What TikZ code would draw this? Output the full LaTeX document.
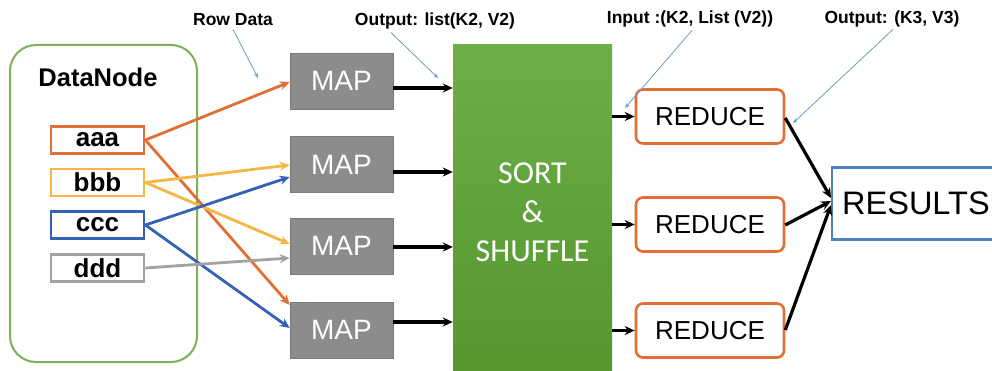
\documentclass[tikz,border=0pt]{standalone}
\usepackage{fontspec}
\setmainfont{Liberation Sans}
\newfontfamily\calib{Carlito}
\usetikzlibrary{arrows.meta}

\definecolor{cOrange}{HTML}{E06F35}
\definecolor{cYellow}{HTML}{F2B843}
\definecolor{cBlue}{HTML}{3462B5}
\definecolor{cGray}{HTML}{A2A2A2}
\definecolor{cMap}{HTML}{8C8C8C}
\definecolor{cMapEdge}{HTML}{7A7A7A}
\definecolor{cGreenTop}{HTML}{6CAE48}
\definecolor{cGreenBot}{HTML}{55972D}
\definecolor{cNodeEdge}{HTML}{7DB155}
\definecolor{cCallout}{HTML}{6A9BD0}
\definecolor{cResult}{HTML}{4F7FC6}

\tikzset{
  px/.style={x=1pt,y=-1pt},
  databox/.style={draw=#1, line width=2.8pt, fill=white, minimum width=93pt,
    minimum height=27pt, inner sep=0pt, font=\fontsize{26}{26}\selectfont\bfseries},
  mapbox/.style={draw=cMapEdge, line width=0.6pt, fill=cMap, minimum width=103pt,
    minimum height=56pt, inner sep=0pt, text=white, font=\fontsize{28}{28}\selectfont},
  reducebox/.style={draw=cOrange, line width=2.6pt, fill=white, rounded corners=7pt,
    minimum width=148pt, minimum height=54pt, inner sep=0pt,
    font=\fontsize{26}{26}\selectfont},
  feed/.style={draw=#1, line width=2.8pt, -{Stealth[length=10pt,width=9pt]}},
  flow/.style={draw=black, line width=3.2pt, -{Stealth[length=10pt,width=9pt]}},
  callout/.style={draw=cCallout, line width=0.8pt, -{Stealth[length=5pt,width=4pt]}},
  note/.style={font=\fontsize{17.5}{17.5}\selectfont\bfseries, inner sep=0pt},
}

\begin{document}
\begin{tikzpicture}[px]
\useasboundingbox (0,0) rectangle (992,371);
\clip (0,0) rectangle (992,371);
\fill[white] (0,0) rectangle (992,371);

% DataNode container
\draw[cNodeEdge, line width=2pt, rounded corners=26pt] (10,45) rectangle (197,362);
\node[font=\fontsize{25.5}{25.5}\selectfont\bfseries] (dn) at (98,77) {DataNode};

% data blocks
\node[databox=cOrange] (aaa) at (97.5,140) {aaa};
\node[databox=cYellow] (bbb) at (97.5,182.5) {bbb};
\node[databox=cBlue]   (ccc) at (97.5,225) {ccc};
\node[databox=cGray]   (ddd) at (97.5,268) {ddd};

% map tasks
\node[mapbox] (m1) at (341.5,81) {MAP};
\node[mapbox] (m2) at (341.5,164.5) {MAP};
\node[mapbox] (m3) at (341.5,246) {MAP};
\node[mapbox] (m4) at (341.5,330) {MAP};

% sort & shuffle stage
\shade[top color=cGreenTop, bottom color=cGreenBot] (453,45) rectangle (612,380);
\node[inner sep=0pt, minimum width=159pt, minimum height=335pt] (ss) at (532.5,212.5) {};
\node[text=white, font=\calib\fontsize{32}{40}\selectfont, align=center] (sstext) at (532.5,212)
  {SORT\\[-1pt]\&\\[-1pt]SHUFFLE};

% reduce tasks
\node[reducebox] (r1) at (710,116.5) {REDUCE};
\node[reducebox] (r2) at (710,224.5) {REDUCE};
\node[reducebox] (r3) at (710,330.5) {REDUCE};

% results
\node[draw=cResult, line width=2.4pt, fill=white, minimum width=175pt, minimum height=72pt,
  inner sep=0pt, anchor=west] (res) at (831,203.5) {};
\node[anchor=west, font=\fontsize{32.5}{32.5}\selectfont, inner sep=0pt] (restext) at (842,203.5) {RESULTS};

% data blocks to map tasks
\draw[feed=cOrange] (aaa.east) -- (m1.west |- 0,82);
\draw[feed=cOrange] (aaa.east) -- (m4.west |- 0,305);
\draw[feed=cYellow] (bbb.east) -- (m2.west |- 0,165);
\draw[feed=cYellow] (bbb.east) -- (m3.west |- 0,244);
\draw[feed=cBlue]   (ccc.east) -- (m2.west |- 0,177);
\draw[feed=cBlue]   (ccc.east) -- (m4.west |- 0,328);
\draw[feed=cGray]   (ddd.east) -- (m3.west |- 0,258);

% map tasks to sort & shuffle
\draw[flow] (m1.east |- 0,88) -- (ss.west |- 0,88);
\draw[flow] (m2.east |- 0,172) -- (ss.west |- 0,172);
\draw[flow] (m3.east |- 0,247) -- (ss.west |- 0,247);
\draw[flow] (m4.east |- 0,322) -- (ss.west |- 0,322);

% sort & shuffle to reduce tasks
\draw[flow] (ss.east |- r1) -- (r1.west);
\draw[flow] (ss.east |- r2) -- (r2.west);
\draw[flow] (ss.east |- r3) -- (r3.west);

% reduce tasks to results
\draw[flow] (r1.east |- 0,118) -- (res.west |- 0,198);
\draw[flow] (r2.east |- 0,225) -- (res.west |- 0,201);
\draw[flow] (r3.east |- 0,330) -- (res.west |- 0,205);

% annotations
\node[note] (lrow)  at (233,20) {Row Data};
\node[note] (lmap)  at (435,21) {Output: list(K2, V2)};
\node[note] (lin)   at (690,19) {Input :(K2, List (V2))};
\node[note] (lout)  at (892,19) {Output: (K3, V3)};

\coordinate (prow) at (258,78);
\coordinate (pmap) at (438,78);
\coordinate (pin)  at (625,108);
\coordinate (pout) at (793,123);
\draw[callout] (lrow.south) ++(0,3) -- (prow);
\draw[callout] (lmap.south west) ++(36,3) -- (pmap);
\draw[callout] (lin.south) ++(2,3) -- (pin);
\draw[callout] (lout.south) ++(1,2) -- (pout);
\end{tikzpicture}
\end{document}
